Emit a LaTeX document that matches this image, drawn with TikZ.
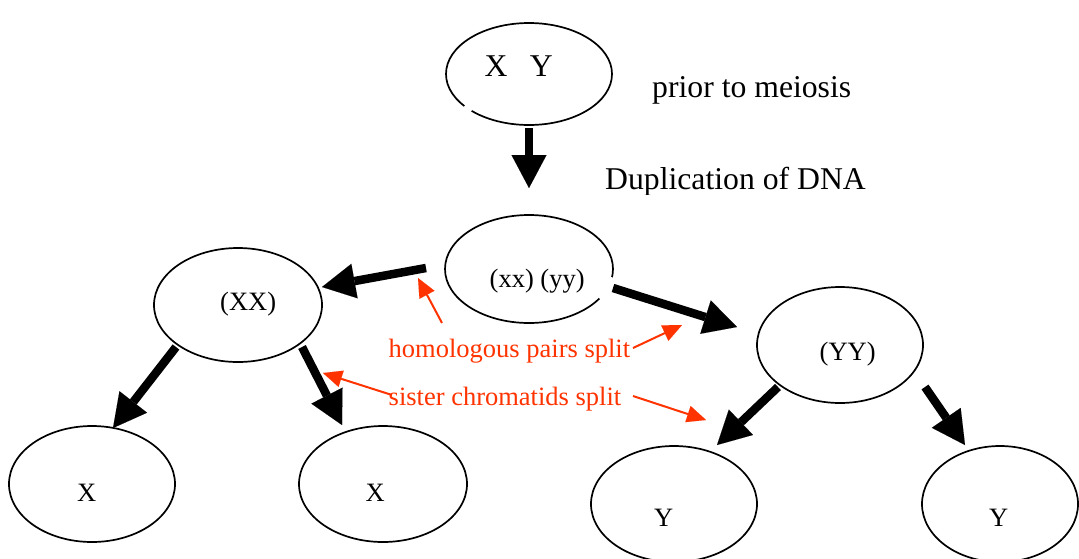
\documentclass[tikz,border=0pt]{standalone}
\usepackage{fontspec}
\setmainfont{Liberation Serif}
\usetikzlibrary{shapes.geometric,arrows.meta,calc}
\definecolor{myred}{RGB}{255,51,0}
\begin{document}
\begin{tikzpicture}[x=1pt,y=-1pt,
  cell/.style={draw,ellipse,line width=1.7pt,inner sep=0pt},
  big/.style={font=\fontsize{31.7}{36}\selectfont,anchor=base west,inner sep=0pt},
  small/.style={font=\fontsize{26.5}{30}\selectfont,anchor=base west,inner sep=0pt},
  redtxt/.style={small,text=myred},
  flow/.style={line width=8.5pt,-{Triangle[length=33pt,width=35pt,line width=0.01pt]}},
  note/.style={draw=myred,line width=2pt,-{Triangle[length=19pt,width=17pt,line width=0.01pt]}},
  gap/.style={draw=white,line width=4pt}]
\useasboundingbox (0,0) rectangle (1079,558);
% cells
\node[cell,minimum width=166pt,minimum height=102pt] (top) at (529,74) {};
\node[cell,minimum width=168pt,minimum height=108pt] (mid) at (529,269) {};
\node[cell,minimum width=168pt,minimum height=114pt] (xx) at (238,305) {};
\node[cell,minimum width=166pt,minimum height=116pt] (yy) at (840,345) {};
\node[cell,minimum width=166pt,minimum height=116pt] (x1) at (92,484) {};
\node[cell,minimum width=168pt,minimum height=116pt] (x2) at (383,484) {};
\node[cell,minimum width=166pt,minimum height=116pt] (y1) at (674,504) {};
\node[cell,minimum width=156pt,minimum height=116pt] (y2) at (1000,504) {};
% small breaks in outlines
\draw[gap] ($(top)+(-64.5,32)$) -- ($(top)+(-57.5,36.8)$);
\draw[gap] ($(mid)+(83.4,8.5)$) -- ($(mid)+(81.1,14)$) -- ($(mid)+(77.9,20.2)$) -- ($(mid)+(73.5,26.2)$) -- ($(mid)+(70.4,29.4)$);
% texts
\node[big] (xyt) at (484.5,76) {X\hspace{22.3pt}Y};
\node[big] (prior) at (652,97) {prior to meiosis};
\begin{scope}
\clip (590,150) rectangle (900,194.5);
\node[big] (dup) at (605,189.5) {Duplication of DNA};
\end{scope}
\node[small] (midt) at (489.5,287) {(xx) (yy)};
\node[small] (xxt) at (220,310.7) {(XX)};
\node[small] (yyt) at (819.5,360) {(YY)};
\node[small] (x1t) at (77,501.7) {X};
\node[small] (x2t) at (365.5,501.7) {X};
\node[small] (y1t) at (653.8,526) {Y};
\node[small] (y2t) at (989,526) {Y};
\node[redtxt] (hom) at (388.5,357) {homologous pairs split};
\node[redtxt] (sis) at (388.5,405) {sister chromatids split};
% black arrows
\draw[flow] ($(top)+(0,54)$) -- ($(mid)+(0,-81)$);
\draw[flow] ($(mid)+(-103,-1)$) -- ($(xx)+(84,-18)$);
\draw[flow] ($(mid)+(84,19)$) -- ($(yy)+(-103,-18)$);
\draw[flow] ($(xx)+(-62,42)$) -- ($(x1)+(21,-56)$);
\draw[flow] ($(xx)+(64,42)$) -- ($(x2)+(-41,-59)$);
\draw[flow] ($(yy)+(-62,42)$) -- ($(y1)+(43,-59)$);
\draw[flow] ($(yy)+(85,42)$) -- ($(y2)+(-35,-59)$);
% red arrows
\draw[note] ($(hom.base west)+(53.5,-34)$) -- ($(mid)+(-111,9)$);
\draw[note] ($(hom.base west)+(244.5,-9)$) -- ($(yy)+(-158,-20)$);
\draw[note] ($(sis.base west)+(3.5,-10)$) -- ($(xx)+(85,68)$);
\draw[note] ($(sis.base west)+(244.5,-9)$) -- ($(y1)+(32,-84)$);
\end{tikzpicture}
\end{document}
